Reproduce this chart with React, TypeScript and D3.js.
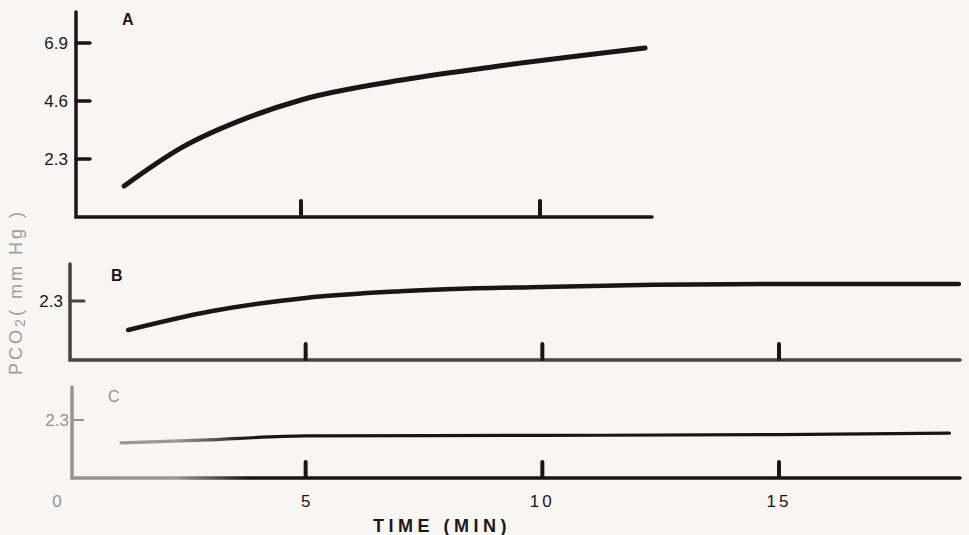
import React from 'react';
import * as d3 from 'd3';

// panel A
const timeA = [1.3, 2.5, 3.9, 5.0, 7.0, 9.0, 12.2];
const pco2A = [1.23, 2.75, 3.95, 4.64, 5.4, 5.95, 6.7];
const ticksA = [2.3, 4.6, 6.9];
const marksA = [5, 10];

// panel B
const timeB = [1.25, 3.0, 5.0, 7.0, 10.0, 15.0, 18.8];
const pco2B = [1.17, 1.9, 2.42, 2.68, 2.85, 2.96, 2.96];
const ticksB = [2.3];

// panel C
const timeC = [1.1, 2.8, 5.0, 10.0, 15.0, 18.6];
const pco2C = [1.39, 1.5, 1.67, 1.69, 1.72, 1.78];
const ticksC = [2.3];
const marksBC = [5, 10, 15];

const timeLabels = ['0', '5', '10', '15'];
const timeValues = [0, 5, 10, 15];

const INK = '#1b1517';
const GREY = '#9a9091';
const FONT = '"Liberation Sans", Arial, sans-serif';

const xA = d3.scaleLinear().domain([0, 10]).range([62, 540]);
const xBC = d3.scaleLinear().domain([0, 15]).range([69, 779]);
const yA = d3.scaleLinear().domain([0, 6.9]).range([217, 43]);
const yB = d3.scaleLinear().domain([0, 2.3]).range([360, 301]);
const yC = d3.scaleLinear().domain([0, 2.3]).range([478, 420]);

const curve = (xs: number[], ys: number[], x: any, y: any) =>
  d3.line<number>().x((d, i) => x(xs[i])).y((d) => y(d)).curve(d3.curveMonotoneX)(ys) || '';

const Tick = ({ x, y, color }: any) => (
  <line x1={x} x2={x} y1={y} y2={y - 15} stroke={color} strokeWidth={4} strokeLinecap="round" />
);

export default function App() {
  return (
    <svg width={969} height={535} style={{ display: 'block', position: 'absolute', left: 0, top: 0 }}>
      <defs>
        <linearGradient id="fadeC" gradientUnits="userSpaceOnUse" x1={70} x2={960} y1={0} y2={0}>
          <stop offset="0" stopColor={GREY} />
          <stop offset="0.12" stopColor="#a09697" />
          <stop offset="0.2" stopColor={INK} />
          <stop offset="1" stopColor={INK} />
        </linearGradient>
      </defs>
      <rect width={969} height={535} fill="#f8f6f3" />

      {/* Panel A */}
      <g fontFamily={FONT}>
        <path d={`M76,12 V217 H652`} fill="none" stroke={INK} strokeWidth={3.5} strokeLinecap="round" />
        {ticksA.map((t) => (
          <g key={t}>
            <line x1={76} x2={90} y1={yA(t)} y2={yA(t)} stroke={INK} strokeWidth={3.5} strokeLinecap="round" />
            <text x={68} y={yA(t)} dy="0.36em" textAnchor="end" fontSize={17} fill={INK}>{t.toFixed(1)}</text>
          </g>
        ))}
        {marksA.map((m) => <Tick key={m} x={xA(m)} y={216} color={INK} />)}
        <path d={curve(timeA, pco2A, xA, yA)} fill="none" stroke={INK} strokeWidth={5} strokeLinecap="round" />
        <text x={122} y={25} fontSize={16} fontWeight="bold" fill={INK}>A</text>
      </g>

      {/* Panel B */}
      <g fontFamily={FONT}>
        <path d={`M70,264 V360 H960`} fill="none" stroke="#4a4042" strokeWidth={3.5} strokeLinecap="round" />
        {ticksB.map((t) => (
          <g key={t}>
            <line x1={70} x2={84} y1={yB(t)} y2={yB(t)} stroke="#4a4042" strokeWidth={3} strokeLinecap="round" />
            <text x={63} y={yB(t)} dy="0.36em" textAnchor="end" fontSize={17} fill={INK}>{t.toFixed(1)}</text>
          </g>
        ))}
        {marksBC.map((m) => <Tick key={m} x={xBC(m)} y={359} color={INK} />)}
        <path d={curve(timeB, pco2B, xBC, yB)} fill="none" stroke={INK} strokeWidth={4.5} strokeLinecap="round" />
        <text x={111} y={281} fontSize={16} fontWeight="bold" fill={INK}>B</text>
      </g>

      {/* Panel C */}
      <g fontFamily={FONT}>
        <path d={`M72,387 V478`} fill="none" stroke={GREY} strokeWidth={3.5} strokeLinecap="round" />
        <path d={`M72,478 H960`} fill="none" stroke="url(#fadeC)" strokeWidth={3.5} strokeLinecap="round" />
        {ticksC.map((t) => (
          <g key={t}>
            <line x1={72} x2={84} y1={yC(t)} y2={yC(t)} stroke={GREY} strokeWidth={2} />
            <text x={69} y={yC(t)} dy="0.36em" textAnchor="end" fontSize={17} fill={GREY}>{t.toFixed(1)}</text>
          </g>
        ))}
        {marksBC.map((m) => <Tick key={m} x={xBC(m)} y={477} color={INK} />)}
        <path d={curve(timeC, pco2C, xBC, yC)} fill="none" stroke="url(#fadeC)" strokeWidth={3.2} strokeLinecap="round" />
        <text x={108} y={402} fontSize={16} fill={GREY}>C</text>
      </g>

      {/* time axis labels */}
      <g fontFamily={FONT} fontSize={17}>
        {timeValues.map((t, i) => (
          <text key={t} x={i === 0 ? 57 : xBC(t)} y={507} textAnchor="middle" letterSpacing={i > 1 ? 3 : 0} fill={i === 0 ? GREY : INK}>
            {timeLabels[i]}
          </text>
        ))}
        <text x={442} y={532} textAnchor="middle" fontSize={18} letterSpacing={4.5} fontWeight="bold" fill={INK}>
          TIME (MIN)
        </text>
      </g>

      {/* y axis title */}
      <text
        transform="translate(22,292) rotate(-90)"
        textAnchor="middle"
        fontFamily={FONT}
        fontSize={18}
        letterSpacing={3}
        fill="#a39a9b"
      >
        PCO<tspan fontSize={14} dy={3}>2</tspan><tspan dy={-3}>( mm Hg )</tspan>
      </text>
    </svg>
  );
}
